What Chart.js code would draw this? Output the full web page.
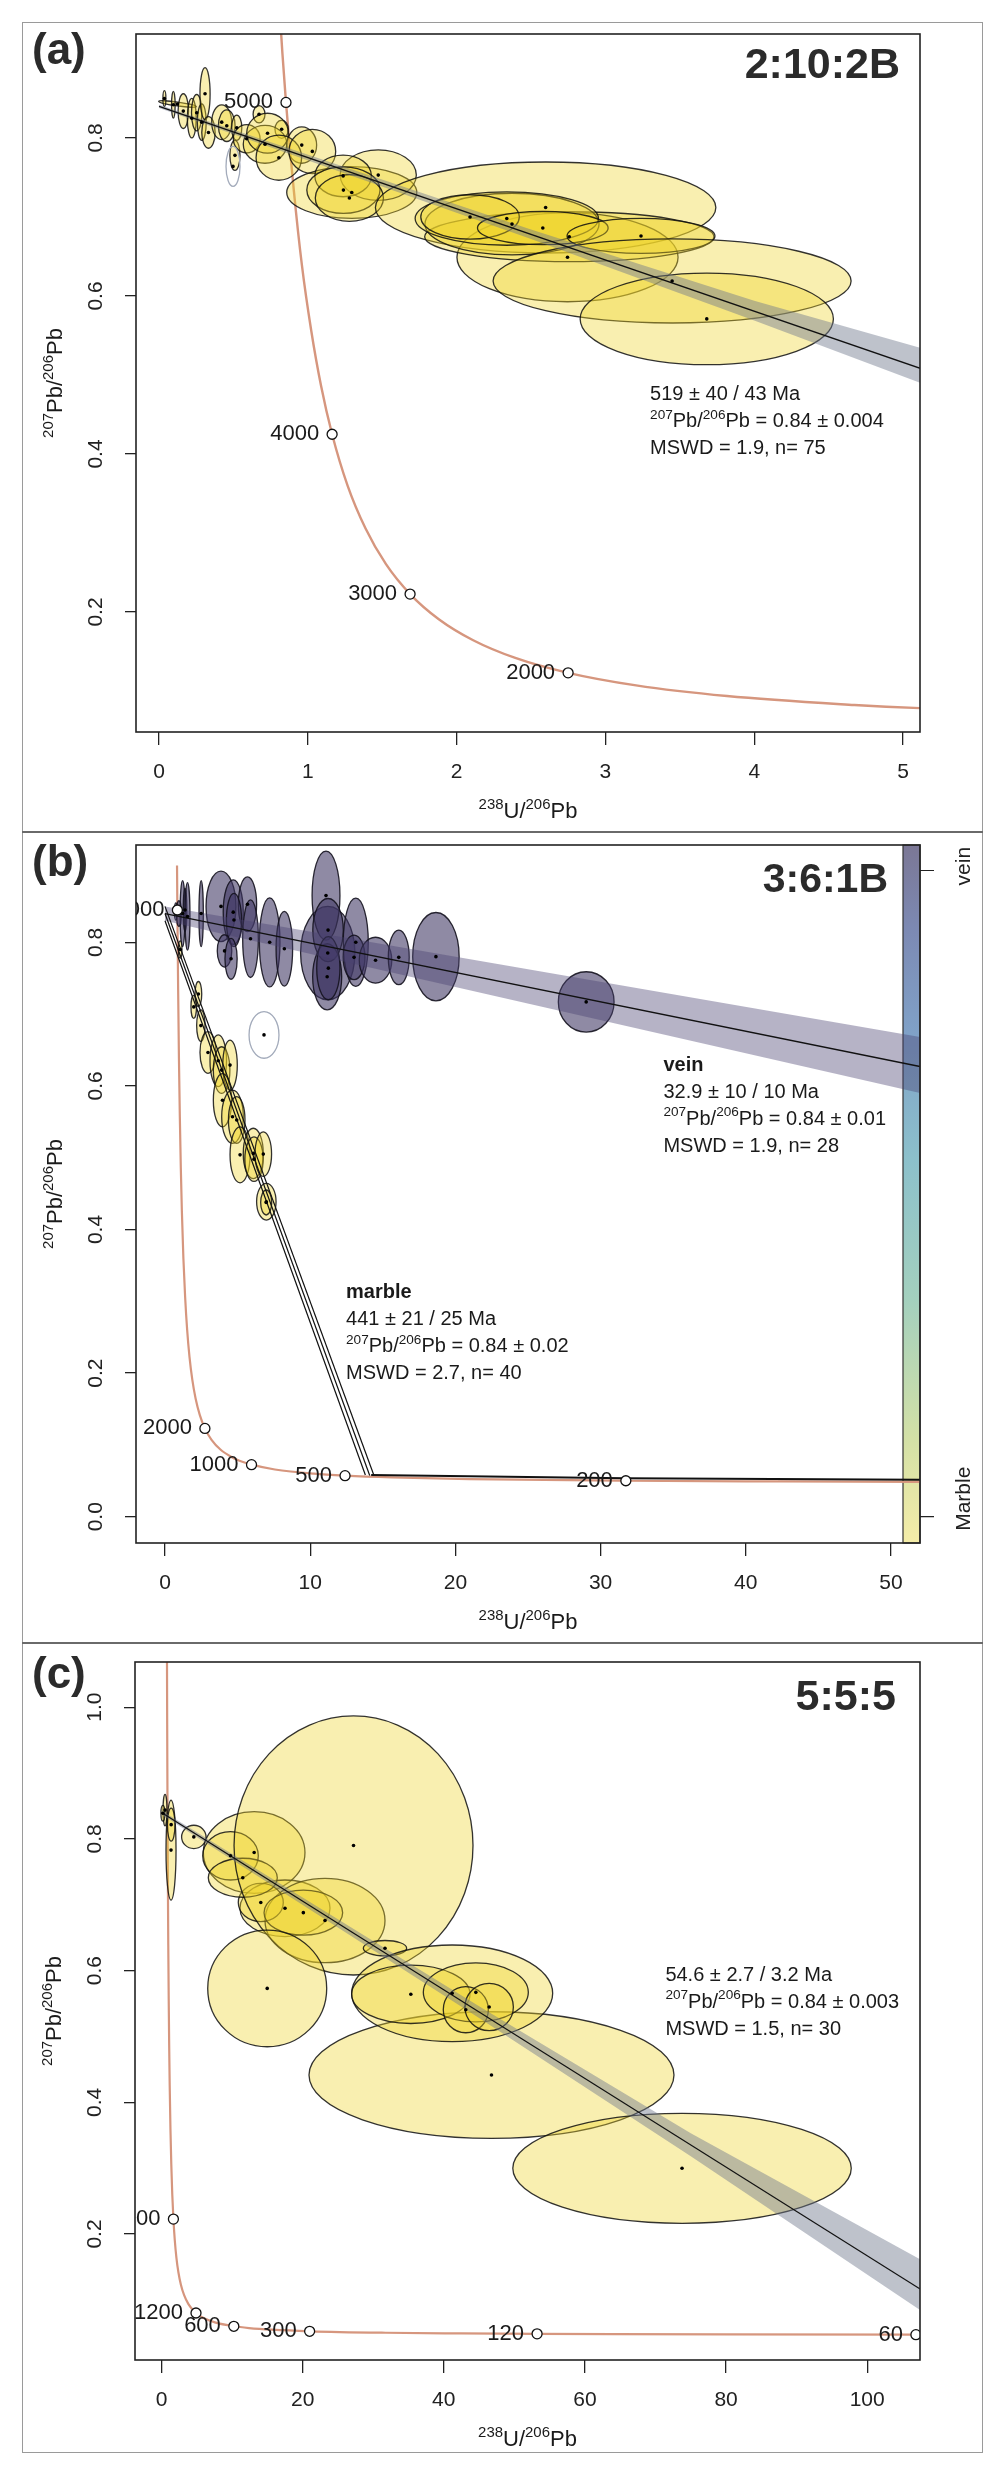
<!DOCTYPE html>
<html>
<head>
<meta charset="utf-8">
<script src="https://cdn.jsdelivr.net/npm/chart.js@4.4.1/dist/chart.umd.min.js"></script>
<style>
  body { margin: 0; background: #fff; width: 1000px; height: 2475px; position: relative; }
  .frame { position: absolute; left: 22px; top: 22px; width: 961px; height: 2431px; border: 1.5px solid #9a9a9a; box-sizing: border-box; }
  .sep { position: absolute; left: 22px; width: 961px; height: 2px; background: #6a6a6a; }
  canvas { position: absolute; left: 22px; }
</style>
</head>
<body>
<div class="frame"></div>
<div class="sep" style="top:831px"></div>
<div class="sep" style="top:1642px"></div>
<canvas id="pa" width="961" height="810" style="top:22px"></canvas>
<canvas id="pb" width="961" height="811" style="top:832px"></canvas>
<canvas id="pc" width="961" height="810" style="top:1643px"></canvas>
<script>
// Tera-Wasserburg plots, three samples
const FONT = '"Liberation Sans", Arial, Helvetica, sans-serif';
Chart.defaults.font.family = FONT;

// concordia: age (Ma), 238U/206Pb, 207Pb/206Pb
const concAge = [5400, 5200, 5100, 5000, 4800, 4600, 4400, 4200, 4000, 3750, 3500, 3250, 3000, 2750, 2500, 2250, 2000, 1750, 1500, 1250, 1200, 1100, 1000, 800, 600, 500, 400, 300, 200, 150, 120, 100, 80, 60, 50];
const concX = [0.763, 0.806, 0.829, 0.853, 0.905, 0.960, 1.022, 1.089, 1.163, 1.267, 1.387, 1.525, 1.687, 1.880, 2.111, 2.394, 2.749, 3.206, 3.817, 4.673, 4.888, 5.375, 5.959, 7.568, 10.25, 12.40, 15.62, 20.99, 31.74, 42.48, 53.22, 63.97, 80.08, 106.9, 128.4];
const concY = [1.123, 0.974, 0.907, 0.845, 0.735, 0.639, 0.557, 0.486, 0.425, 0.360, 0.306, 0.2605, 0.2227, 0.1909, 0.1643, 0.1419, 0.1230, 0.1071, 0.0936, 0.0822, 0.0801, 0.0762, 0.0725, 0.0658, 0.0599, 0.0572, 0.0547, 0.0523, 0.0501, 0.0491, 0.0484, 0.0480, 0.0476, 0.0472, 0.0470];

// ---- (a) 2:10:2B ----
const aXTicks = [0, 1, 2, 3, 4, 5];
const aYTicks = [0.2, 0.4, 0.6, 0.8];
const aAges = [5000, 4000, 3000, 2000];
const aCx = [0.124, 0.036, 0.096, 0.163, 0.220, 0.253, 0.287, 0.309, 0.332, 0.421, 0.455, 0.522, 0.510, 0.589, 0.672, 0.824, 0.712, 0.729, 0.959, 0.805, 1.030, 1.295, 1.473, 1.237, 1.239, 1.279, 2.598, 2.745, 2.757, 2.372, 2.337, 2.090, 2.579, 3.239, 3.448, 3.681];
const aCy = [0.843, 0.850, 0.842, 0.834, 0.825, 0.832, 0.820, 0.856, 0.807, 0.820, 0.8155, 0.813, 0.778, 0.799, 0.830, 0.811, 0.792, 0.806, 0.791, 0.775, 0.783, 0.731, 0.753, 0.752, 0.734, 0.724, 0.712, 0.649, 0.675, 0.691, 0.698, 0.700, 0.686, 0.676, 0.619, 0.571];
const aRx = [0.128, 0.010, 0.012, 0.035, 0.030, 0.035, 0.030, 0.034, 0.045, 0.067, 0.056, 0.034, 0.034, 0.090, 0.040, 0.045, 0.146, 0.140, 0.100, 0.153, 0.157, 0.437, 0.256, 0.190, 0.246, 0.229, 1.144, 0.743, 0.972, 0.585, 0.616, 0.331, 0.439, 0.497, 1.203, 0.851];
const aRy = [0.0025, 0.010, 0.017, 0.022, 0.025, 0.023, 0.023, 0.033, 0.020, 0.022, 0.020, 0.016, 0.019, 0.018, 0.011, 0.0114, 0.024, 0.0253, 0.023, 0.0285, 0.028, 0.0327, 0.032, 0.0264, 0.0295, 0.0295, 0.0576, 0.0563, 0.0316, 0.039, 0.0338, 0.0281, 0.0211, 0.0222, 0.0532, 0.058];
const aTilt = [8];
const aOutCx = [0.497], aOutCy = [0.764], aOutRx = [0.047], aOutRy = [0.0253];
const aLineX = [0, 5.2], aLineY = [0.84, 0.503];
const aBandX = [0, 2.5, 4.0, 5.2], aBandHi = [0.842, 0.684, 0.594, 0.530], aBandLo = [0.838, 0.672, 0.569, 0.484];
const aNote = ['519 ± 40 / 43 Ma', '{207}Pb/{206}Pb = 0.84 ± 0.004', 'MSWD = 1.9, n= 75'];

// ---- (b) 3:6:1B ----
const bXTicks = [0, 10, 20, 30, 40, 50];
const bYTicks = [0.0, 0.2, 0.4, 0.6, 0.8];
const bAges = [5000, 2000, 1000, 500, 200];
const bVx = [0.75, 0.96, 1.21, 1.38, 1.55, 2.49, 3.857, 4.70, 5.68, 4.75, 4.10, 4.55, 5.89, 7.21, 8.22, 11.21, 11.09, 11.23, 11.17, 11.25, 13.14, 13.02, 14.50, 16.10, 18.66, 29.01];
const bVy = [0.843, 0.840, 0.840, 0.845, 0.836, 0.840, 0.850, 0.842, 0.853, 0.831, 0.788, 0.777, 0.805, 0.800, 0.791, 0.785, 0.865, 0.817, 0.752, 0.764, 0.800, 0.779, 0.775, 0.779, 0.780, 0.717];
const bVrx = [0.10, 0.17, 0.17, 0.12, 0.17, 0.15, 1.03, 0.69, 0.63, 0.52, 0.50, 0.42, 0.54, 0.71, 0.57, 1.87, 0.96, 1.05, 1.00, 0.80, 0.86, 0.75, 1.12, 0.72, 1.60, 1.92];
const bVry = [0.012, 0.018, 0.046, 0.030, 0.047, 0.046, 0.049, 0.045, 0.038, 0.037, 0.0225, 0.0285, 0.054, 0.062, 0.052, 0.065, 0.062, 0.044, 0.046, 0.044, 0.0615, 0.031, 0.032, 0.038, 0.0615, 0.042];
const bMx = [1.05, 1.98, 2.30, 2.47, 2.96, 3.67, 3.90, 4.48, 3.96, 4.65, 4.94, 5.17, 6.08, 6.13, 6.77, 6.98, 6.97];
const bMy = [0.790, 0.710, 0.728, 0.684, 0.6465, 0.635, 0.622, 0.629, 0.580, 0.557, 0.5525, 0.504, 0.506, 0.498, 0.505, 0.4387, 0.4376];
const bMrx = [0.12, 0.19, 0.23, 0.29, 0.55, 0.57, 0.57, 0.50, 0.63, 0.745, 0.57, 0.69, 0.69, 0.63, 0.57, 0.67, 0.38];
const bMry = [0.012, 0.016, 0.0174, 0.022, 0.029, 0.036, 0.0325, 0.0348, 0.037, 0.037, 0.0325, 0.039, 0.035, 0.031, 0.031, 0.0255, 0.0174];
const bOutCx = [6.82], bOutCy = [0.671], bOutRx = [1.03], bOutRy = [0.0325];
const bVeinX = [0, 52], bVeinY = [0.84, 0.627], bVeinHi = [0.85, 0.668], bVeinLo = [0.83, 0.590];
const bMarbleX0 = [0, 0, 0], bMarbleY0 = [0.83, 0.84, 0.85];
const bMarbleX1 = [13.8, 14.1, 14.4], bMarbleY1 = [0.058, 0.0575, 0.057];
const bFlatX = [14.2, 31.7, 52], bFlatY = [0.058, 0.0535, 0.0515];
const bVeinNote = ['vein', '32.9 ± 10 / 10 Ma', '{207}Pb/{206}Pb = 0.84 ± 0.01', 'MSWD = 1.9, n= 28'];
const bMarbleNote = ['marble', '441 ± 21 / 25 Ma', '{207}Pb/{206}Pb = 0.84 ± 0.02', 'MSWD = 2.7, n= 40'];
const barTicks = [0.0, 0.9];
const barLabels = ['Marble', 'vein'];
const barLabelY = [0.025, 0.906];
const barStopPos = [0, 0.15, 0.35, 0.55, 0.72, 0.88, 1];
const barStopColor = ['#f5eda8', '#d3e0a6', '#a3d0be', '#8cc0cb', '#80a3c9', '#7c89b3', '#7b7795'];

// ---- (c) 5:5:5 ----
const cXTicks = [0, 20, 40, 60, 80, 100];
const cYTicks = [0.2, 0.4, 0.6, 0.8, 1.0];
const cAges = [3000, 1200, 600, 300, 120, 60];
const cCx = [0.5, 0.2, 1.35, 1.37, 4.58, 13.13, 9.78, 17.5, 23.17, 14.07, 20.1, 11.52, 27.21, 14.98, 31.67, 46.76, 41.19, 35.33, 44.54, 43.12, 46.43, 73.76];
const cCy = [0.8437, 0.839, 0.783, 0.8216, 0.803, 0.7793, 0.7743, 0.6946, 0.676, 0.7034, 0.688, 0.741, 0.790, 0.573, 0.634, 0.4414, 0.5655, 0.564, 0.567, 0.5406, 0.5447, 0.2998];
const cRx = [0.28, 0.28, 0.71, 0.54, 1.73, 7.2, 3.94, 6.38, 8.5, 3.19, 5.57, 4.89, 16.93, 8.43, 3.07, 25.86, 14.24, 8.39, 7.44, 3.19, 3.43, 23.98];
const cRy = [0.024, 0.012, 0.076, 0.025, 0.0177, 0.062, 0.0367, 0.043, 0.064, 0.029, 0.0342, 0.0296, 0.1967, 0.0886, 0.0117, 0.0961, 0.0734, 0.0443, 0.0448, 0.035, 0.036, 0.0835];
const cLineX = [0, 107.5], cLineY = [0.84, 0.1165];
const cBandX = [0, 45, 75, 107.5], cBandHi = [0.843, 0.546, 0.353, 0.1615], cBandLo = [0.837, 0.528, 0.318, 0.0845];
const cNote = ['54.6 ± 2.7 / 3.2 Ma', '{207}Pb/{206}Pb = 0.84 ± 0.003', 'MSWD = 1.5, n= 30'];

const CONC = 'rgb(214,150,126)';
const YEL = 'rgba(240,212,40,0.37)';
const PURP = 'rgba(62,54,98,0.58)';
const EDGE = 'rgba(15,15,15,0.85)';

function pts(xs, ys) { return xs.map((x, i) => ({ x: x, y: ys[i] })); }
function concPts(maxAge) {
  const out = [];
  concAge.forEach((a, i) => { if (a <= maxAge) out.push({ x: concX[i], y: concY[i] }); });
  return out;
}
function agePts(ages) {
  return ages.map(a => { const i = concAge.indexOf(a); return { x: concX[i], y: concY[i] }; });
}

// text with {sup} parts
function drawRich(ctx, str, x, y, size, align, bold) {
  const parts = str.split(/\{(\d+)\}/);
  const w = parts.map((p, i) => {
    ctx.font = (bold ? 'bold ' : '') + (i % 2 ? size * 0.68 : size) + 'px ' + FONT;
    return ctx.measureText(p).width;
  });
  const total = w.reduce((a, b) => a + b, 0);
  let cx = align === 'center' ? x - total / 2 : align === 'right' ? x - total : x;
  ctx.textAlign = 'left';
  ctx.textBaseline = 'middle';
  parts.forEach((p, i) => {
    ctx.font = (bold ? 'bold ' : '') + (i % 2 ? size * 0.68 : size) + 'px ' + FONT;
    ctx.fillText(p, cx, i % 2 ? y - size * 0.34 : y);
    cx += w[i];
  });
}

const panels = {
  pa: {
    letter: '(a)', letterBase: 42, sample: '2:10:2B', sampleRight: 878, sampleBase: 56, sampleSize: 43,
    ellipses: [
      { cx: aCx, cy: aCy, rx: aRx, ry: aRy, tilt: aTilt, fill: YEL, stroke: EDGE },
      { cx: aOutCx, cy: aOutCy, rx: aOutRx, ry: aOutRy, fill: null, stroke: '#a3abbb' }
    ],
    ages: aAges,
    notes: [{ x: 3.30, y: 0.4747, lines: aNote, bold: false }]
  },
  pb: {
    letter: '(b)', letterBase: 44, sample: '3:6:1B', sampleRight: 866, sampleBase: 60, sampleSize: 41,
    ellipses: [
      { cx: bVx, cy: bVy, rx: bVrx, ry: bVry, fill: PURP, stroke: 'rgba(20,18,30,0.9)' },
      { cx: bMx, cy: bMy, rx: bMrx, ry: bMry, fill: YEL, stroke: EDGE },
      { cx: bOutCx, cy: bOutCy, rx: bOutRx, ry: bOutRy, fill: null, stroke: '#a3abbb' }
    ],
    ages: bAges,
    notes: [{ x: 34.33, y: 0.629, lines: bVeinNote, bold: true }, { x: 12.47, y: 0.312, lines: bMarbleNote, bold: true }],
    colorbar: true
  },
  pc: {
    letter: '(c)', letterBase: 45, sample: '5:5:5', sampleRight: 874, sampleBase: 67, sampleSize: 43,
    ellipses: [{ cx: cCx, cy: cCy, rx: cRx, ry: cRy, fill: YEL, stroke: EDGE }],
    ages: cAges,
    notes: [{ x: 71.4, y: 0.5933, lines: cNote, bold: false }]
  }
};

function clipArea(ctx, ca) {
  ctx.beginPath();
  ctx.rect(ca.left, ca.top, ca.right - ca.left, ca.bottom - ca.top);
  ctx.clip();
}

function drawEllipses(chart, sets) {
  const { ctx, chartArea: ca } = chart;
  const xs = chart.scales.x, ys = chart.scales.y;
  ctx.save();
  clipArea(ctx, ca);
  sets.forEach(s => {
    s.cx.forEach((cx, i) => {
      const px = xs.getPixelForValue(cx), py = ys.getPixelForValue(s.cy[i]);
      const rx = Math.abs(xs.getPixelForValue(cx + s.rx[i]) - px);
      const ry = Math.abs(ys.getPixelForValue(s.cy[i] + s.ry[i]) - py);
      const t = ((s.tilt && s.tilt[i]) || 0) * Math.PI / 180;
      ctx.beginPath();
      ctx.ellipse(px, py, rx, ry, t, 0, 2 * Math.PI);
      if (s.fill) { ctx.fillStyle = s.fill; ctx.fill(); }
      ctx.lineWidth = 1.3;
      ctx.strokeStyle = s.stroke;
      ctx.stroke();
    });
  });
  ctx.restore();
}

function drawColorbar(chart) {
  const { ctx, chartArea: ca } = chart;
  const ys = chart.scales.y;
  const w = 17, x0 = ca.right - w;
  const g = ctx.createLinearGradient(0, ca.bottom, 0, ca.top);
  barStopPos.forEach((p, i) => g.addColorStop(p, barStopColor[i]));
  ctx.save();
  ctx.fillStyle = g;
  ctx.fillRect(x0, ca.top, w, ca.bottom - ca.top);
  ctx.strokeStyle = '#333';
  ctx.lineWidth = 1.2;
  ctx.strokeRect(x0, ca.top, w, ca.bottom - ca.top);
  ctx.beginPath();
  barTicks.forEach(v => {
    const py = ys.getPixelForValue(v);
    ctx.moveTo(ca.right, py);
    ctx.lineTo(ca.right + 14, py);
  });
  ctx.strokeStyle = '#222';
  ctx.stroke();
  ctx.fillStyle = '#222';
  barLabels.forEach((t, i) => {
    ctx.save();
    ctx.translate(ca.right + 44, ys.getPixelForValue(barLabelY[i]));
    ctx.rotate(-Math.PI / 2);
    drawRich(ctx, t, 0, 0, 21, 'center', false);
    ctx.restore();
  });
  ctx.restore();
}

const decor = {
  id: 'decor',
  beforeDatasetsDraw(chart) {
    const p = panels[chart.canvas.id];
    if (p.colorbar) drawColorbar(chart);
  },
  afterDatasetDraw(chart, args) {
    if (args.index !== 0) return;
    drawEllipses(chart, panels[chart.canvas.id].ellipses);
  },
  afterDraw(chart) {
    const p = panels[chart.canvas.id];
    const { ctx, chartArea: ca } = chart;
    const xs = chart.scales.x, ys = chart.scales.y;
    ctx.save();
    // plot frame
    ctx.strokeStyle = '#222';
    ctx.lineWidth = 1.6;
    ctx.strokeRect(ca.left, ca.top, ca.right - ca.left, ca.bottom - ca.top);
    ctx.fillStyle = '#1a1a1a';
    // concordia age labels
    ctx.save();
    clipArea(ctx, ca);
    p.ages.forEach(a => {
      const i = concAge.indexOf(a);
      drawRich(ctx, String(a), xs.getPixelForValue(concX[i]) - 13, ys.getPixelForValue(concY[i]), 22, 'right', false);
    });
    ctx.restore();
    // fit results
    p.notes.forEach(n => {
      const px = xs.getPixelForValue(n.x), py = ys.getPixelForValue(n.y);
      n.lines.forEach((l, k) => drawRich(ctx, l, px, py + k * 27, 20, 'left', n.bold && k === 0));
    });
    // axis titles
    drawRich(ctx, '{238}U/{206}Pb', (ca.left + ca.right) / 2, ca.bottom + 80, 22, 'center', false);
    ctx.save();
    ctx.translate(ca.left - 80, (ca.top + ca.bottom) / 2);
    ctx.rotate(-Math.PI / 2);
    drawRich(ctx, '{207}Pb/{206}Pb', 0, 0, 22, 'center', false);
    ctx.restore();
    // panel letter and sample name
    ctx.fillStyle = '#2b2b2b';
    ctx.textBaseline = 'alphabetic';
    ctx.font = 'bold 44px ' + FONT;
    ctx.textAlign = 'left';
    ctx.fillText(p.letter, 10, p.letterBase);
    ctx.font = 'bold ' + p.sampleSize + 'px ' + FONT;
    ctx.textAlign = 'right';
    ctx.fillText(p.sample, p.sampleRight, p.sampleBase);
    ctx.restore();
  }
};
Chart.register(decor);

function scales(xmin, xmax, ymin, ymax, xt, yt, yw, xh) {
  return {
    x: {
      type: 'linear', min: xmin, max: xmax,
      afterBuildTicks: s => { s.ticks = xt.map(v => ({ value: v })); },
      afterFit: s => { s.height = xh; s.paddingLeft = 0; s.paddingRight = 0; },
      grid: { display: true, drawOnChartArea: false, drawTicks: true, tickLength: 13, color: '#222', lineWidth: 1.3 },
      border: { display: false },
      ticks: { font: { size: 21 }, color: '#222', padding: 15, maxRotation: 0, autoSkip: false, callback: v => String(v) }
    },
    y: {
      type: 'linear', min: ymin, max: ymax,
      afterBuildTicks: s => { s.ticks = yt.map(v => ({ value: v })); },
      afterFit: s => { s.width = yw; s.paddingTop = 0; s.paddingBottom = 0; },
      grid: { display: true, drawOnChartArea: false, drawTicks: true, tickLength: 11, color: '#222', lineWidth: 1.3 },
      border: { display: false },
      ticks: { font: { size: 21 }, color: '#222', padding: 14, minRotation: 90, maxRotation: 90, crossAlign: 'center', autoSkip: false, callback: v => v.toFixed(1) }
    }
  };
}

function lineDs(data, color, width, order, extra) {
  return Object.assign({ data: data, showLine: true, borderColor: color, borderWidth: width, pointRadius: 0, fill: false, order: order, capBezierPoints: false }, extra || {});
}
function dotDs(xs, ys, order) {
  return { data: pts(xs, ys), showLine: false, pointRadius: 1.8, pointBackgroundColor: '#000', pointBorderWidth: 0, order: order };
}
function ageDs(ages, order) {
  return { data: agePts(ages), showLine: false, pointRadius: 5, pointBackgroundColor: '#fff', pointBorderColor: '#111', pointBorderWidth: 1.3, order: order };
}

function make(id, datasets, sc, pad) {
  return new Chart(document.getElementById(id), {
    type: 'scatter',
    data: { datasets: datasets },
    options: {
      responsive: false, animation: false, events: [],
      layout: { padding: pad },
      plugins: { legend: { display: false }, tooltip: { enabled: false } },
      scales: sc
    }
  });
}

make('pa', [
  lineDs(concPts(5400), CONC, 2.4, 10, { cubicInterpolationMode: 'monotone' }),
  lineDs(pts(aBandX, aBandHi), 'rgba(0,0,0,0)', 0, 9, { fill: '+1', backgroundColor: 'rgba(110,120,140,0.45)' }),
  lineDs(pts(aBandX, aBandLo), 'rgba(0,0,0,0)', 0, 8),
  lineDs(pts(aLineX, aLineY), '#111', 1.4, 7),
  dotDs(aCx.concat(aOutCx), aCy.concat(aOutCy), 6),
  ageDs(aAges, 5)
], scales(-0.155, 5.114, 0.0481, 0.9316, aXTicks, aYTicks, 114, 100), { left: 0, right: 63, top: 12, bottom: 0 });

make('pb', [
  lineDs(concPts(5100), CONC, 2.2, 20, { cubicInterpolationMode: 'monotone' }),
  lineDs(pts(bVeinX, bVeinHi), 'rgba(0,0,0,0)', 0, 19, { fill: '+1', backgroundColor: 'rgba(72,64,112,0.4)' }),
  lineDs(pts(bVeinX, bVeinLo), 'rgba(0,0,0,0)', 0, 18),
  lineDs(pts(bVeinX, bVeinY), '#111', 1.4, 17),
  lineDs([{ x: bMarbleX0[0], y: bMarbleY0[0] }, { x: bMarbleX1[0], y: bMarbleY1[0] }], '#111', 1.2, 16),
  lineDs([{ x: bMarbleX0[1], y: bMarbleY0[1] }, { x: bMarbleX1[1], y: bMarbleY1[1] }], '#111', 1.2, 16),
  lineDs([{ x: bMarbleX0[2], y: bMarbleY0[2] }, { x: bMarbleX1[2], y: bMarbleY1[2] }], '#111', 1.2, 16),
  lineDs(pts(bFlatX, bFlatY), '#111', 2, 15),
  dotDs(bVx.concat(bMx, bOutCx), bVy.concat(bMy, bOutCy), 14),
  ageDs(bAges, 13)
], scales(-1.997, 52.0, -0.0366, 0.9355, bXTicks, bYTicks, 114, 100), { left: 0, right: 63, top: 13, bottom: 0 });

make('pc', [
  lineDs(concPts(5400), CONC, 2.2, 10, { cubicInterpolationMode: 'monotone' }),
  lineDs(pts(cBandX, cBandHi), 'rgba(0,0,0,0)', 0, 9, { fill: '+1', backgroundColor: 'rgba(110,120,140,0.45)' }),
  lineDs(pts(cBandX, cBandLo), 'rgba(0,0,0,0)', 0, 8),
  lineDs(pts(cLineX, cLineY), '#111', 1.3, 7),
  dotDs(cCx, cCy, 6),
  ageDs(cAges, 5)
], scales(-3.755, 107.48, 0.0087, 1.0686, cXTicks, cYTicks, 113, 93), { left: 0, right: 63, top: 19, bottom: 0 });
</script>
</body>
</html>
